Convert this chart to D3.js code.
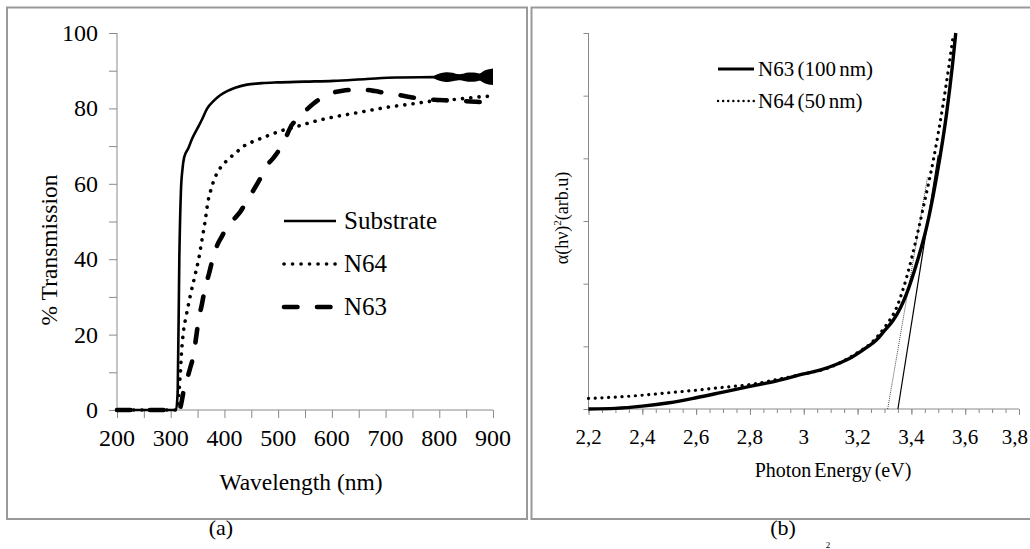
<!DOCTYPE html>
<html>
<head>
<meta charset="utf-8">
<script src="https://cdn.jsdelivr.net/npm/d3@7"></script>
<style>
  html, body { margin: 0; padding: 0; background: #fff; }
  svg { display: block; }
  svg text { font-family: "Liberation Serif", "Times New Roman", Times, serif; }
  .axis path, .axis line { stroke: #8a8a8a; }
</style>
</head>
<body>
<svg id="fig" width="1030" height="549"></svg>
<script>
// ---- panel (a): transmission spectra, [wavelength nm, % T] ----
const substrate = [[200,0],[250,0],[300,0],[310,0],[313,5],[316,40],[319,58],[322,64],[325,67],[333,69.5],
  [340,72],[349,74.5],[358,77],[368,80],[380,82],[392,83.5],[405,84.6],[420,85.5],[442,86.3],[470,86.7],
  [498,86.9],[550,87.1],[603,87.3],[665,87.8],[720,88.2],[790,88.3],[850,88.4],[900,88.5]];
// noisy end of the substrate trace: [wavelength, low, high]
const substrateNoise = [[790,88.0,88.6],[800,87.3,89.3],[812,86.9,89.7],[826,87.2,89.5],[832,87.5,89.0],
  [845,87.4,89.1],[852,87.0,89.6],[870,87.1,89.5],[876,87.6,89.0],[884,86.5,90.3],[900,86.2,90.6]];
const n64 = [[200,0],[300,0],[312,0],[315,4],[318,10],[320,15],[323,20],[329,25],[336,30],[344,35],[352,40],
  [358,45],[364,50],[369,55],[375,58.5],[382,61.5],[389,63.5],[400,65.5],[411,67],[425,68.7],[436,70],
  [450,71],[467,72],[485,73],[504,74],[530,75],[554,76],[580,77],[603,77.7],[653,79],[703,80.3],[750,81.2],
  [790,82],[830,82.4],[870,83],[900,83.3]];
const n63 = [[200,0],[300,0],[316,0],[320,2],[324,5],[330,8],[336,11],[343,15],[348,20],[352,24],[358,28],
  [364,32.5],[371,36],[378,40],[386,43.5],[395,46],[405,48.5],[417,50.5],[430,52.7],[442,55.5],[454,58.3],
  [467,61.5],[479,64.8],[492,67],[504,69.5],[515,72.5],[523,75],[538,77.5],[554,79.8],[566,81.3],[579,82.6],
  [591,83.5],[603,84.2],[620,84.7],[634,84.9],[650,85],[665,84.9],[680,84.6],[696,84.2],[727,83.5],
  [759,82.7],[790,82.3],[820,82.1],[850,81.9],[880,81.6],[900,81.0]];
const legendA = ["Substrate", "N64", "N63"];
const xTicksA = [200,300,400,500,600,700,800,900];
const yTicksA = [0,20,40,60,80,100];

// ---- panel (b): Tauc plot, [photon energy eV, arb. units] ----
const taucN63 = [[2.2,0],[2.3,0.01],[2.4,0.045],[2.5,0.10],[2.6,0.18],[2.7,0.27],[2.8,0.36],[2.9,0.45],
  [3.0,0.56],[3.06,0.62],[3.12,0.71],[3.18,0.83],[3.23,0.97],[3.27,1.10],[3.30,1.25],[3.333,1.42],
  [3.36,1.62],[3.383,1.85],[3.42,2.33],[3.457,2.91],[3.494,3.71],[3.531,4.72],[3.553,5.5],[3.565,6.0]];
const taucN64 = [[2.2,0.17],[2.3,0.19],[2.4,0.22],[2.5,0.26],[2.6,0.30],[2.7,0.345],[2.8,0.39],[2.9,0.47],
  [3.0,0.56],[3.1,0.67],[3.2,0.90],[3.25,1.05],[3.3,1.30],[3.346,1.63],[3.383,2.11],[3.42,2.75],
  [3.445,3.23],[3.482,3.98],[3.519,4.89],[3.556,5.97]];
const tangentN63 = [[3.35,0],[3.50,4.05]];
const tangentN64 = [[3.312,0],[3.46,3.7]];
const legendB = ["N63 (100 nm)", "N64 (50 nm)"];
const xTicksB = [2.2,2.4,2.6,2.8,3.0,3.2,3.4,3.6,3.8];

const svg = d3.select("#fig");

// panel frames
svg.append("rect").attr("x", 7).attr("y", 7.5).attr("width", 520).attr("height", 511.5)
  .attr("fill", "none").attr("stroke", "#999").attr("stroke-width", 2);
svg.append("rect").attr("x", 531.5).attr("y", 7.5).attr("width", 510).attr("height", 511.5)
  .attr("fill", "none").attr("stroke", "#999").attr("stroke-width", 2);

// ===== panel (a) =====
const xa = d3.scaleLinear().domain([200, 900]).range([117, 493]);
const ya = d3.scaleLinear().domain([0, 100]).range([410, 33]);
const ga = svg.append("g");

ga.append("g").attr("class", "axis").attr("transform", "translate(0,410)")
  .call(d3.axisBottom(xa).tickValues(d3.range(200, 901, 50)).tickSize(8).tickFormat(""))
  .call(g => g.selectAll("path").attr("d", "M117,0H493"));
ga.append("g").attr("class", "axis").attr("transform", "translate(117,0)")
  .call(d3.axisLeft(ya).tickValues(d3.range(0, 101, 10)).tickSize(8).tickFormat(""))
  .call(g => g.selectAll("path").attr("d", "M0,33V410"));

ga.selectAll("text.xt").data(xTicksA).join("text").attr("class", "xt")
  .attr("x", d => xa(d)).attr("y", 446).attr("text-anchor", "middle")
  .attr("font-size", 24).text(d => d);
ga.selectAll("text.yt").data(yTicksA).join("text").attr("class", "yt")
  .attr("x", 98).attr("y", d => ya(d) + 8).attr("text-anchor", "end")
  .attr("font-size", 24).text(d => d);

ga.append("text").attr("x", 301).attr("y", 490).attr("text-anchor", "middle")
  .attr("font-size", 23.5).text("Wavelength (nm)");
ga.append("text").attr("transform", "translate(57,250) rotate(-90)").attr("text-anchor", "middle")
  .attr("font-size", 23.5).text("% Transmission");

const lineA = d3.line().x(d => xa(d[0])).y(d => ya(d[1])).curve(d3.curveMonotoneX);
const styleA = [
  { w: 2.6, dash: null, cap: "butt" },
  { w: 3.6, dash: "0.1 8.2", cap: "round" },
  { w: 4.6, dash: "13.5 19.5", cap: "round" }
];
[substrate, n64, n63].forEach((s, i) => {
  ga.append("path").attr("d", lineA(s)).attr("fill", "none").attr("stroke", "#000")
    .attr("stroke-width", styleA[i].w).attr("stroke-dasharray", styleA[i].dash)
    .attr("stroke-linecap", styleA[i].cap).attr("stroke-linejoin", "round");
});
ga.append("path")
  .attr("d", d3.area().x(d => xa(d[0])).y0(d => ya(d[1])).y1(d => ya(d[2])).curve(d3.curveBasis)(substrateNoise))
  .attr("fill", "#000");

// legend (a)
legendA.forEach((name, i) => {
  const y = 222 + i * 43;
  ga.append("line").attr("x1", 284).attr("x2", 336).attr("y1", y - 1).attr("y2", y - 1)
    .attr("stroke", "#000").attr("stroke-width", styleA[i].w)
    .attr("stroke-dasharray", i === 1 ? "0.1 8.4" : styleA[i].dash)
    .attr("stroke-linecap", styleA[i].cap);
  ga.append("text").attr("x", 344).attr("y", y + 7).attr("font-size", 25).text(name);
});

svg.append("text").attr("x", 221).attr("y", 535).attr("text-anchor", "middle")
  .attr("font-size", 22).text("(a)");

// ===== panel (b) =====
const xb = d3.scaleLinear().domain([2.2, 3.8]).range([588.5, 1019]);
const yb = d3.scaleLinear().domain([0, 6]).range([409, 33]);
const gb = svg.append("g");

const minor = d3.range(0, 33).map(i => 2.2 + i * 0.05);
gb.append("g").attr("class", "axis").attr("transform", "translate(0,409)")
  .call(d3.axisBottom(xb).tickValues(minor).tickSize(4).tickFormat(""))
  .call(g => g.selectAll("path").attr("d", "M588.5,0H1019"));
gb.append("g").attr("class", "axis").attr("transform", "translate(0,409)")
  .call(d3.axisBottom(xb).tickValues(xTicksB).tickSize(6).tickFormat(""))
  .call(g => g.select("path").remove());
gb.append("g").attr("class", "axis").attr("transform", "translate(588.5,0)")
  .call(d3.axisLeft(yb).tickValues(d3.range(0, 7)).tickSize(5).tickFormat(""))
  .call(g => g.selectAll("path").attr("d", "M0,33V409"));

const fmtB = v => String(Math.round(v * 10) / 10).replace(".", ",");
const lastB = xTicksB[xTicksB.length - 1];
gb.selectAll("text.xt").data(xTicksB).join("text").attr("class", "xt")
  .attr("x", d => d === lastB ? 1028 : xb(d)).attr("y", 444)
  .attr("text-anchor", d => d === lastB ? "end" : "middle")
  .attr("font-size", 21).text(fmtB);

gb.append("text").attr("x", 833).attr("y", 477).attr("text-anchor", "middle")
  .attr("font-size", 20).attr("word-spacing", -2).text("Photon Energy  (eV)");
const yl = gb.append("text").attr("transform", "translate(568,218) rotate(-90)")
  .attr("text-anchor", "middle").attr("font-size", 18);
yl.append("tspan").text("α(hν)");
yl.append("tspan").attr("font-size", 11).attr("dy", -7).text("2");
yl.append("tspan").attr("dy", 7).text("(arb.u)");

const lineB = d3.line().x(d => xb(d[0])).y(d => yb(d[1])).curve(d3.curveMonotoneX);
gb.append("path").attr("d", lineB(tangentN64)).attr("fill", "none").attr("stroke", "#333")
  .attr("stroke-width", 0.9).attr("stroke-dasharray", "1 1");
gb.append("path").attr("d", lineB(tangentN63)).attr("fill", "none").attr("stroke", "#000")
  .attr("stroke-width", 1.2);
gb.append("path").attr("d", lineB(taucN64)).attr("fill", "none").attr("stroke", "#000")
  .attr("stroke-width", 3.2).attr("stroke-dasharray", "0.1 6.6").attr("stroke-linecap", "round");
gb.append("path").attr("d", lineB(taucN63)).attr("fill", "none").attr("stroke", "#000")
  .attr("stroke-width", 3.4);

// legend (b)
legendB.forEach((name, i) => {
  const y = 70 + i * 32;
  gb.append("line").attr("x1", 718).attr("x2", 754).attr("y1", y - 1).attr("y2", y - 1)
    .attr("stroke", "#000").attr("stroke-width", i === 0 ? 3.2 : 2.4)
    .attr("stroke-dasharray", i === 0 ? null : "0.1 5").attr("stroke-linecap", i === 0 ? "butt" : "round");
  gb.append("text").attr("x", 758).attr("y", y + 6).attr("font-size", 21)
    .attr("word-spacing", -2).text(name);
});

svg.append("text").attr("x", 783).attr("y", 535).attr("text-anchor", "middle")
  .attr("font-size", 22).text("(b)");
// start of the next caption line at the bottom edge
svg.append("text").attr("x", 828).attr("y", 548).attr("text-anchor", "middle")
  .attr("font-size", 9).text("2");
</script>
</body>
</html>
